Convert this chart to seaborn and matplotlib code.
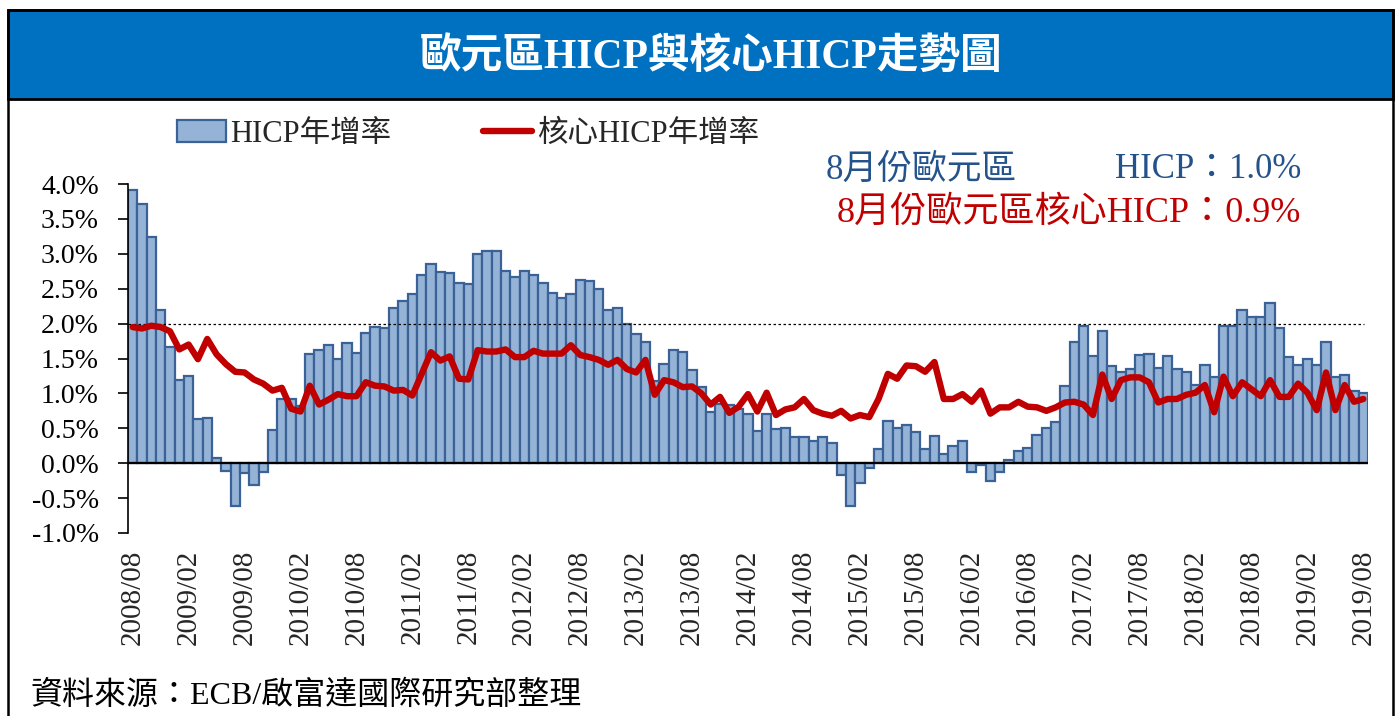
import pandas as pd
import seaborn as sns
import matplotlib.pyplot as plt
import numpy as np
from matplotlib.patches import Rectangle, Patch
from matplotlib.lines import Line2D

# Monthly data, 2008/08 - 2019/08 (y/y %)
months = pd.date_range('2008-08-01', periods=133, freq='MS').strftime('%Y/%m')

hicp = [3.91, 3.72, 3.24, 2.19, 1.67, 1.19, 1.25, 0.64, 0.65, 0.07,
        -0.11, -0.62, -0.14, -0.31, -0.12, 0.48, 0.92, 0.92, 0.82, 1.56,
        1.62, 1.70, 1.49, 1.72, 1.58, 1.87, 1.95, 1.93, 2.23, 2.33,
        2.43, 2.69, 2.85, 2.74, 2.73, 2.58, 2.57, 3.00, 3.04, 3.04,
        2.76, 2.67, 2.75, 2.70, 2.58, 2.44, 2.36, 2.42, 2.62, 2.61,
        2.49, 2.20, 2.22, 1.99, 1.85, 1.73, 1.18, 1.42, 1.62, 1.60,
        1.33, 1.09, 0.73, 0.85, 0.84, 0.77, 0.71, 0.46, 0.71, 0.49,
        0.50, 0.38, 0.37, 0.32, 0.38, 0.29, -0.17, -0.61, -0.29, -0.07,
        0.21, 0.61, 0.51, 0.55, 0.44, 0.20, 0.39, 0.13, 0.25, 0.32,
        -0.12, -0.03, -0.26, -0.12, 0.05, 0.17, 0.22, 0.41, 0.51, 0.59,
        1.11, 1.73, 1.96, 1.54, 1.90, 1.39, 1.30, 1.35, 1.55, 1.56,
        1.37, 1.53, 1.35, 1.30, 1.12, 1.40, 1.23, 1.96, 1.97, 2.20,
        2.09, 2.09, 2.30, 1.93, 1.52, 1.40, 1.50, 1.40, 1.73, 1.23,
        1.27, 1.03, 1.00]

core = [1.95, 1.93, 1.97, 1.95, 1.89, 1.63, 1.70, 1.49, 1.78, 1.56,
        1.42, 1.31, 1.30, 1.20, 1.14, 1.04, 1.08, 0.78, 0.74, 1.11,
        0.84, 0.91, 0.99, 0.96, 0.96, 1.16, 1.11, 1.10, 1.04, 1.05,
        0.97, 1.28, 1.59, 1.47, 1.53, 1.21, 1.20, 1.62, 1.60, 1.60,
        1.63, 1.52, 1.52, 1.61, 1.57, 1.57, 1.57, 1.69, 1.55, 1.52,
        1.48, 1.41, 1.48, 1.35, 1.30, 1.48, 0.98, 1.19, 1.16, 1.09,
        1.10, 1.00, 0.84, 0.95, 0.72, 0.81, 0.99, 0.74, 1.01, 0.69,
        0.77, 0.80, 0.92, 0.76, 0.71, 0.68, 0.75, 0.64, 0.69, 0.66,
        0.92, 1.28, 1.21, 1.40, 1.39, 1.31, 1.45, 0.92, 0.92, 0.99,
        0.88, 1.04, 0.71, 0.80, 0.80, 0.88, 0.81, 0.80, 0.75, 0.80,
        0.87, 0.88, 0.84, 0.69, 1.27, 0.92, 1.19, 1.23, 1.23, 1.16,
        0.87, 0.92, 0.92, 0.98, 1.01, 1.12, 0.73, 1.24, 0.96, 1.16,
        1.06, 0.96, 1.19, 0.95, 0.95, 1.14, 1.01, 0.76, 1.30, 0.76,
        1.12, 0.88, 0.92]

yticks = [-1.0, -0.5, 0.0, 0.5, 1.0, 1.5, 2.0, 2.5, 3.0, 3.5, 4.0]

df = pd.DataFrame({'idx': np.arange(len(months)), 'month': months,
                   'hicp': hicp, 'core': core})

sns.set_theme(style='white')
plt.rcParams['font.family'] = ['Liberation Serif', 'Noto Sans CJK TC', 'DejaVu Sans']

fig = plt.figure(figsize=(14, 7.16), dpi=100)
ax = fig.add_axes([128 / 1400, 1 - 533 / 716, 1240 / 1400, 349 / 716])

# bars + line
sns.barplot(data=df, x='idx', y='hicp', color='#95B3D7', saturation=1,
            width=1.0, edgecolor='#3A6296', linewidth=1.6, ax=ax)
sns.lineplot(data=df, x='idx', y='core', color='#C00000', linewidth=4.6, ax=ax)

ax.axhline(0, color='black', lw=1.6, zorder=5)
ax.axhline(2.0, color='black', lw=0.9, ls=(0, (2, 2)), xmax=0.997, zorder=1)

ax.set_xlim(-0.5, len(months) - 0.5)
ax.set_ylim(-1.0, 4.0)
ax.set_yticks(yticks)
ax.set_yticklabels([f'{v:.1f}%' for v in yticks], fontsize=20)
ax.set_xticks(df['idx'][::6])
ax.set_xticklabels(df['month'][::6], rotation=90, fontsize=21)
ax.tick_params(axis='x', length=0, pad=12)
ax.tick_params(axis='y', direction='out', length=7, width=1.2, pad=14, left=True, colors='black')
ax.set_xlabel('')
ax.set_ylabel('')
for s in ['top', 'right', 'bottom']:
    ax.spines[s].set_visible(False)
ax.spines['left'].set_color('black')
ax.spines['left'].set_linewidth(1.2)

# legend
handles = [Patch(facecolor='#95B3D7', edgecolor='#3A6296', linewidth=1.6),
           Line2D([0], [0], color='#C00000', lw=4.6)]
fig.legend(handles, ['HICP年增率', '核心HICP年增率'], loc='center left',
           bbox_to_anchor=(177 / 1400, 1 - 134 / 716), ncol=2, frameon=False,
           fontsize=22, handlelength=1.6, handletextpad=0.15, columnspacing=3.0,
           borderpad=0, borderaxespad=0)

# August annotations
fig.text(826 / 1400, 1 - 170 / 716, '8月份歐元區', color='#24538C', fontsize=25, va='center')
fig.text(1301 / 1400, 1 - 170 / 716, 'HICP：1.0%', color='#24538C', fontsize=25,
         va='center', ha='right')
fig.text(1301 / 1400, 1 - 213 / 716, '8月份歐元區核心HICP：0.9%', color='#C00000',
         fontsize=26, va='center', ha='right')

# title banner and frame
fig.patches.append(Rectangle((8 / 1400, 1 - 99 / 716), 1385 / 1400, 89 / 716,
                             transform=fig.transFigure, facecolor='#0070C0',
                             edgecolor='black', lw=2.0, zorder=0))
fig.patches.append(Rectangle((8 / 1400, -0.05), 1385 / 1400, 1.05 - 10 / 716,
                             transform=fig.transFigure, facecolor='none',
                             edgecolor='black', lw=1.8, zorder=0))
fig.text(0.508, 1 - 57 / 716, '歐元區HICP與核心HICP走勢圖', color='white',
         fontsize=30, fontweight='bold', ha='center', va='center')

fig.text(30 / 1400, 1 - 696 / 716, '資料來源：ECB/啟富達國際研究部整理', fontsize=23,
         va='center', color='black')

fig.savefig('out.png', dpi=100)
